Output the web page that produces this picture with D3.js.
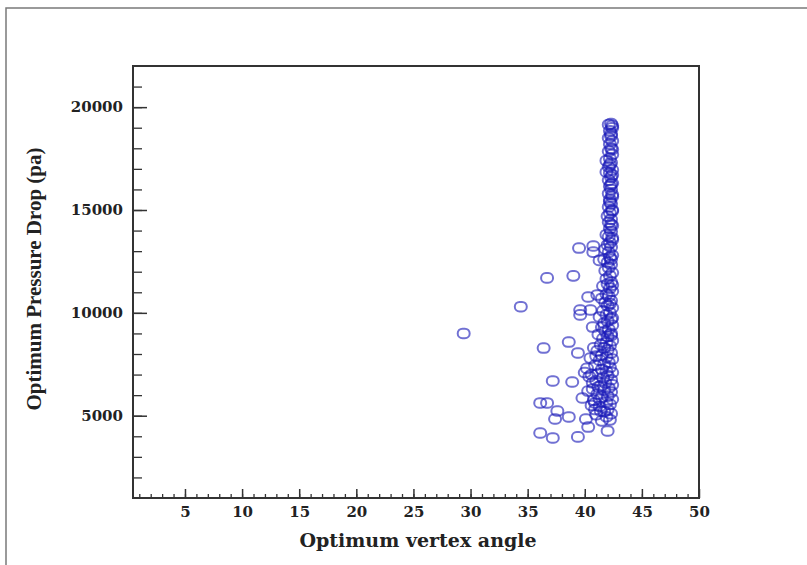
<!DOCTYPE html>
<html>
<head>
<meta charset="utf-8">
<script src="https://cdn.jsdelivr.net/npm/d3@7"></script>
<style>
  html, body { margin: 0; padding: 0; background: #ffffff; }
  svg { display: block; }
</style>
</head>
<body>
<script>
// ---------------- DATA ----------------
const xTicks = [5, 10, 15, 20, 25, 30, 35, 40, 45, 50];
const yTicks = [5000, 10000, 15000, 20000];
const xTitle = "Optimum vertex angle";
const yTitle = "Optimum Pressure Drop (pa)";

// Optimum vertex angle (deg)
const angle = [
  // outliers / scattered
  29.4, 34.4, 36.7, 39.0, 39.5, 40.75, 40.75, 41.3, 40.3, 41.1, 39.6, 39.6, 40.5, 40.7, 38.6, 36.4,
  39.4, 37.2, 38.9, 36.1, 36.7, 37.6, 38.6, 37.4, 40.1, 39.8, 40.3, 36.1, 37.2, 39.4, 42.0, 41.4, 40.9,
  // dense column (upper part)
  42.3, 42.1, 42.4, 42.2, 42.3, 42.1, 42.4, 42.2, 42.3, 42.1, 42.4, 42.2, 41.9, 42.3, 42.1, 42.4,
  42.2, 41.9, 42.3, 42.1, 42.4, 42.2, 42.3, 42.1, 42.4, 42.2, 42.3, 42.1, 42.4, 42.2, 42.0, 42.3,
  42.1, 42.4, 42.2, 42.3, 41.9, 42.1, 42.4, 42.2, 42.0, 42.3, 41.8, 42.1, 42.4, 42.2, 41.7, 42.0,
  42.3, 42.1, 41.8, 42.4, 42.2, 41.9, 42.3, 42.0, 41.6, 42.2, 42.4, 41.9, 42.1, 41.5, 42.3, 41.8,
  // dense column (lower, broader part)
  42.0, 42.4, 41.6, 42.2, 41.9, 41.3, 42.3, 42.0, 41.7, 42.4, 41.5, 42.1, 41.8, 42.3, 41.2, 42.0,
  41.6, 42.4, 41.9, 41.4, 42.2, 41.7, 42.0, 41.1, 42.3, 41.5, 41.9, 42.4, 41.3, 42.1, 41.7, 40.9,
  42.2, 41.5, 41.9, 42.4, 41.2, 40.6, 42.0, 41.6, 42.3, 41.0, 41.8, 42.4, 41.4, 42.1, 40.7, 41.7,
  42.3, 41.1, 42.0, 41.5, 42.4, 40.8, 41.9, 42.2, 41.3, 42.0, 41.7, 42.3, 41.0, 41.9, 42.2, 41.5,
  // extra cluster points 40-42
  40.2, 40.5, 40.8, 40.4, 40.0, 41.0, 40.7, 40.3, 41.2, 40.6, 41.3, 40.9, 42.4, 42.3, 42.4, 42.2,
  42.4, 42.3, 42.4, 42.2, 42.4, 42.3, 42.4, 42.3, 42.4, 42.2, 42.4, 42.3
];

// Optimum pressure drop (Pa)
const pressure = [
  9000, 10300, 11700, 11800, 13150, 13250, 12950, 12550, 10770, 10870, 10140, 9900, 10140, 9310, 8580, 8290,
  8050, 6690, 6640, 5620, 5620, 5230, 4940, 4840, 4840, 5860, 4450, 4160, 3920, 3970, 4260, 5230, 5620,
  19200, 19150, 19000, 18850, 18700, 18500, 18350, 18200, 18000, 17850, 17700, 17500, 17400, 17300, 17100, 16950,
  16800, 16850, 16600, 16450, 16300, 16150, 16000, 15800, 15650, 15500, 15300, 15150, 15000, 14850, 14700, 14550,
  14400, 14250, 14100, 13950, 13800, 13700, 13550, 13400, 13300, 13200, 13100, 12950, 12800, 12700, 12600, 12450,
  12350, 12200, 12050, 11950, 11800, 11650, 11500, 11400, 11300, 11200, 11050, 10900, 10800, 10700, 10600, 10500,
  10350, 10250, 10100, 10000, 9900, 9800, 9700, 9600, 9500, 9400, 9300, 9200, 9100, 9000, 8950, 8850,
  8750, 8650, 8550, 8450, 8400, 8300, 8200, 8150, 8050, 7950, 7850, 7750, 7700, 7600, 7500, 7450,
  7350, 7250, 7150, 7100, 7050, 7000, 6950, 6850, 6750, 6700, 6600, 6500, 6450, 6350, 6300, 6250,
  6150, 6050, 5950, 5900, 5800, 5750, 5650, 5550, 5450, 5300, 5200, 5100, 5050, 4950, 4800, 4750,
  7300, 7800, 8300, 6900, 7100, 7900, 6600, 6200, 6400, 5500, 5800, 5300, 19100, 18600, 17950, 17200,
  16700, 16250, 15750, 15400, 14950, 14300, 13650, 12600, 11350, 10450, 9750, 8900
];

// ---------------- CHART ----------------
const W = 807, H = 565;
const svg = d3.select("body").append("svg").attr("width", W).attr("height", H);

// outer frame
svg.append("path")
  .attr("d", `M6,${H} L6,8 L${W},8`)
  .attr("fill", "none").attr("stroke", "#7a7a7a").attr("stroke-width", 1.5);

const pL = 133, pR = 699, pT = 66, pB = 498;
const x = d3.scaleLinear().domain([0.45, 50]).range([pL, pR]);
const y = d3.scaleLinear().domain([1000, 22000]).range([pB, pT]);

const tickFont = "'DejaVu Serif', serif";

// minor x ticks
svg.append("g").attr("transform", `translate(0,${pB})`)
  .call(d3.axisBottom(x).tickValues(d3.range(1, 50)).tickSize(-4).tickFormat(""))
  .call(g => g.select(".domain").remove())
  .call(g => g.selectAll("line").attr("stroke", "#333").attr("stroke-width", 1.3));

// major x ticks
svg.append("g").attr("transform", `translate(0,${pB})`)
  .call(d3.axisBottom(x).tickValues(xTicks).tickSize(-9).tickPadding(8))
  .call(g => g.select(".domain").remove())
  .call(g => g.selectAll("line").attr("stroke", "#333").attr("stroke-width", 1.5))
  .call(g => g.selectAll("text").attr("font-family", tickFont).attr("font-weight", "bold")
    .attr("font-size", 15).attr("fill", "#222"));

// minor y ticks
svg.append("g").attr("transform", `translate(${pL},0)`)
  .call(d3.axisLeft(y).tickValues(d3.range(2000, 22000, 1000)).tickSize(-9).tickFormat(""))
  .call(g => g.select(".domain").remove())
  .call(g => g.selectAll("line").attr("stroke", "#333").attr("stroke-width", 1.3));

// major y ticks
svg.append("g").attr("transform", `translate(${pL},0)`)
  .call(d3.axisLeft(y).tickValues(yTicks).tickSize(-14).tickPadding(10).tickFormat(d3.format("d")))
  .call(g => g.select(".domain").remove())
  .call(g => g.selectAll("line").attr("stroke", "#333").attr("stroke-width", 1.5))
  .call(g => g.selectAll("text").attr("font-family", tickFont).attr("font-weight", "bold")
    .attr("font-size", 15).attr("fill", "#222"));

// plot box
svg.append("rect")
  .attr("x", pL).attr("y", pT).attr("width", pR - pL).attr("height", pB - pT)
  .attr("fill", "none").attr("stroke", "#333").attr("stroke-width", 2);

// points
const pts = angle.map((a, i) => ({ a, p: pressure[i] }));
svg.append("g").selectAll("rect.pt").data(pts).join("rect")
  .attr("class", "pt")
  .attr("x", d => x(d.a) - 6).attr("y", d => y(d.p) - 4.8)
  .attr("width", 12).attr("height", 9.6)
  .attr("rx", 4.8).attr("ry", 4.8)
  .attr("fill", "none")
  .attr("stroke", "#1a1ab8")
  .attr("stroke-opacity", 0.62)
  .attr("stroke-width", 2);

// axis titles
svg.append("text")
  .attr("x", 418).attr("y", 547)
  .attr("text-anchor", "middle")
  .attr("font-family", tickFont).attr("font-weight", "bold").attr("font-size", 19)
  .attr("fill", "#222")
  .text(xTitle);

svg.append("text")
  .attr("transform", "translate(41,279) rotate(-90)")
  .attr("text-anchor", "middle")
  .attr("font-family", "'Liberation Serif', serif").attr("font-weight", "bold").attr("font-size", 21)
  .attr("fill", "#222")
  .text(yTitle);
</script>
</body>
</html>
